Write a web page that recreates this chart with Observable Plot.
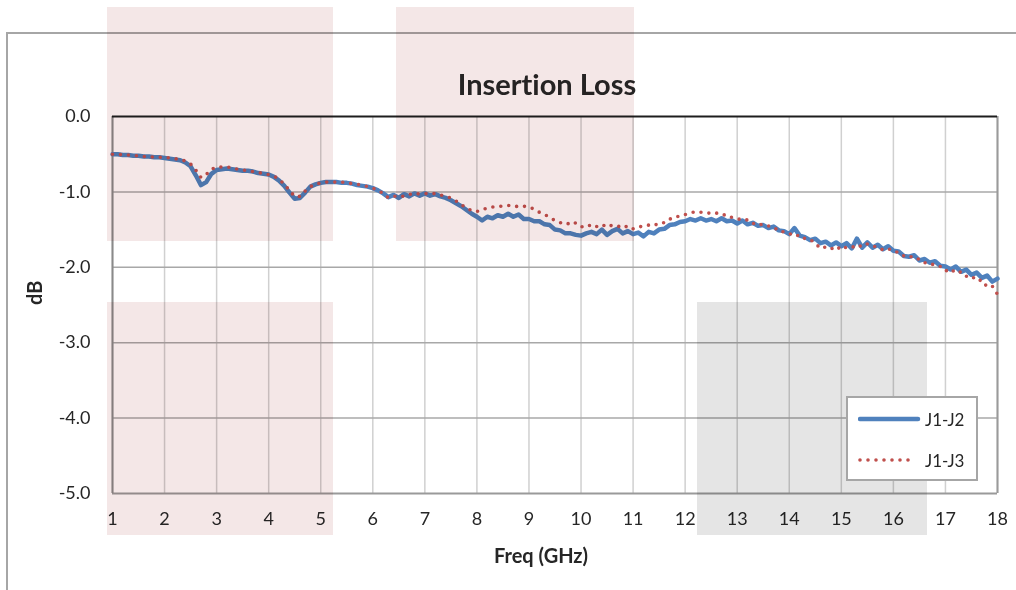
<!DOCTYPE html>
<html>
<head>
<meta charset="utf-8">
<script src="https://cdn.jsdelivr.net/npm/d3@7"></script>
<script src="https://cdn.jsdelivr.net/npm/@observablehq/plot@0.6"></script>
<style>
  html, body { margin: 0; padding: 0; background: #fff; }
  #wrap { position: relative; width: 1016px; height: 590px; overflow: hidden; background: #fff; font-family: Lato, "Open Sans", sans-serif; font-variant-ligatures: none; font-feature-settings: "liga" 0, "clig" 0, "dlig" 0; }
  #chart svg, #chart svg text { font-variant-ligatures: none; font-feature-settings: "liga" 0, "clig" 0, "dlig" 0; }
  #frame { position: absolute; left: 6px; top: 32px; width: 1100px; height: 700px; border: 2px solid #a6a6a6; box-sizing: border-box; pointer-events: none; }
  .shade { position: absolute; mix-blend-mode: multiply; pointer-events: none; }
  #legend { position: absolute; left: 846px; top: 396px; width: 132px; height: 85px; border: 2px solid #a6a6a6; box-sizing: border-box; background: #fff; font-size: 17px; color: #262626; }
  #legend .row { position: absolute; left: 0; height: 20px; display: flex; align-items: center; }
  #legend svg { display: block; }
</style>
</head>
<body>
<div id="wrap">
  <div id="frame"></div>
  <div id="chart"></div>
  <div class="shade" style="left:107px;top:7px;width:226px;height:234px;background:rgb(244,231,231)"></div>
  <div class="shade" style="left:396px;top:7px;width:238px;height:234px;background:rgb(244,231,231)"></div>
  <div class="shade" style="left:107px;top:302px;width:226px;height:233px;background:rgb(244,231,231)"></div>
  <div class="shade" style="left:697px;top:302px;width:230px;height:233px;background:rgb(229,229,229)"></div>
  <div id="legend"></div>
</div>
<script>
const freq = [
1.0,1.1,1.2,1.3,1.4,1.5,1.6,1.7,1.8,1.9,
2.0,2.1,2.2,2.3,2.4,2.5,2.6,2.7,2.8,2.9,
3.0,3.1,3.2,3.3,3.4,3.5,3.6,3.7,3.8,3.9,
4.0,4.1,4.2,4.3,4.4,4.5,4.6,4.7,4.8,4.9,
5.0,5.1,5.2,5.3,5.4,5.5,5.6,5.7,5.8,5.9,
6.0,6.1,6.2,6.3,6.4,6.5,6.6,6.7,6.8,6.9,
7.0,7.1,7.2,7.3,7.4,7.5,7.6,7.7,7.8,7.9,
8.0,8.1,8.2,8.3,8.4,8.5,8.6,8.7,8.8,8.9,
9.0,9.1,9.2,9.3,9.4,9.5,9.6,9.7,9.8,9.9,
10.0,10.1,10.2,10.3,10.4,10.5,10.6,10.7,10.8,10.9,
11.0,11.1,11.2,11.3,11.4,11.5,11.6,11.7,11.8,11.9,
12.0,12.1,12.2,12.3,12.4,12.5,12.6,12.7,12.8,12.9,
13.0,13.1,13.2,13.3,13.4,13.5,13.6,13.7,13.8,13.9,
14.0,14.1,14.2,14.3,14.4,14.5,14.6,14.7,14.8,14.9,
15.0,15.1,15.2,15.3,15.4,15.5,15.6,15.7,15.8,15.9,
16.0,16.1,16.2,16.3,16.4,16.5,16.6,16.7,16.8,16.9,
17.0,17.1,17.2,17.3,17.4,17.5,17.6,17.7,17.8,17.9,
18.0];

const j1j2 = [
-0.50,-0.50,-0.51,-0.51,-0.52,-0.52,-0.53,-0.53,-0.54,-0.54,
-0.55,-0.56,-0.57,-0.58,-0.61,-0.66,-0.78,-0.91,-0.87,-0.76,
-0.71,-0.70,-0.69,-0.70,-0.71,-0.72,-0.72,-0.73,-0.75,-0.76,
-0.77,-0.80,-0.85,-0.92,-1.01,-1.09,-1.08,-1.01,-0.93,-0.90,
-0.88,-0.87,-0.87,-0.87,-0.88,-0.88,-0.89,-0.91,-0.92,-0.93,
-0.95,-0.98,-1.02,-1.07,-1.04,-1.08,-1.03,-1.06,-1.02,-1.05,
-1.02,-1.05,-1.03,-1.06,-1.08,-1.11,-1.15,-1.19,-1.24,-1.29,
-1.33,-1.38,-1.33,-1.35,-1.31,-1.33,-1.29,-1.33,-1.30,-1.36,
-1.36,-1.39,-1.39,-1.43,-1.44,-1.50,-1.51,-1.55,-1.55,-1.57,
-1.58,-1.55,-1.53,-1.56,-1.50,-1.57,-1.52,-1.49,-1.55,-1.52,
-1.56,-1.54,-1.59,-1.53,-1.55,-1.50,-1.49,-1.44,-1.43,-1.40,
-1.39,-1.36,-1.38,-1.35,-1.38,-1.36,-1.39,-1.35,-1.39,-1.38,
-1.42,-1.38,-1.43,-1.41,-1.45,-1.44,-1.48,-1.46,-1.51,-1.52,
-1.56,-1.48,-1.58,-1.60,-1.64,-1.62,-1.68,-1.66,-1.71,-1.67,
-1.72,-1.68,-1.75,-1.62,-1.74,-1.67,-1.74,-1.70,-1.76,-1.72,
-1.78,-1.79,-1.85,-1.86,-1.84,-1.91,-1.89,-1.94,-1.92,-1.98,
-1.99,-2.03,-1.99,-2.06,-2.03,-2.10,-2.07,-2.14,-2.11,-2.19,
-2.15];

const j1j3 = [
-0.50,-0.50,-0.51,-0.51,-0.52,-0.52,-0.53,-0.53,-0.54,-0.54,
-0.54,-0.55,-0.56,-0.57,-0.59,-0.63,-0.71,-0.81,-0.77,-0.70,
-0.67,-0.67,-0.67,-0.68,-0.70,-0.71,-0.72,-0.73,-0.74,-0.76,
-0.77,-0.79,-0.83,-0.90,-0.98,-1.06,-1.06,-0.99,-0.93,-0.90,
-0.88,-0.87,-0.87,-0.87,-0.87,-0.88,-0.89,-0.90,-0.91,-0.93,
-0.95,-0.98,-1.02,-1.08,-1.06,-1.05,-1.06,-1.03,-1.04,-1.02,
-1.02,-1.03,-1.02,-1.04,-1.06,-1.08,-1.12,-1.17,-1.21,-1.25,
-1.26,-1.24,-1.21,-1.20,-1.19,-1.19,-1.18,-1.18,-1.20,-1.19,
-1.20,-1.23,-1.27,-1.30,-1.34,-1.38,-1.41,-1.40,-1.44,-1.41,
-1.46,-1.47,-1.43,-1.46,-1.43,-1.47,-1.44,-1.45,-1.48,-1.45,
-1.49,-1.46,-1.46,-1.44,-1.45,-1.41,-1.41,-1.36,-1.35,-1.31,
-1.30,-1.28,-1.26,-1.27,-1.27,-1.29,-1.28,-1.31,-1.30,-1.34,
-1.35,-1.38,-1.37,-1.42,-1.41,-1.45,-1.45,-1.49,-1.49,-1.54,
-1.55,-1.59,-1.57,-1.62,-1.63,-1.68,-1.75,-1.73,-1.76,-1.72,
-1.77,-1.73,-1.74,-1.70,-1.73,-1.69,-1.72,-1.73,-1.77,-1.75,
-1.79,-1.80,-1.85,-1.84,-1.89,-1.89,-1.94,-1.94,-1.98,-1.99,
-2.05,-2.02,-2.08,-2.06,-2.12,-2.11,-2.18,-2.17,-2.26,-2.25,
-2.36];

const xTicks = [1,2,3,4,5,6,7,8,9,10,11,12,13,14,15,16,17,18];
const yTicks = [0,-1,-2,-3,-4,-5];
const yGrid = [-1,-2,-3,-4];
const seriesNames = ["J1-J2","J1-J3"];
const seriesColors = ["#4f81bd","#c0504d"];
const titleText = "Insertion Loss";
const xLabel = "Freq (GHz)";
const yLabel = "dB";

const table = freq.map((f, i) => ({freq: f, j12: j1j2[i], j13: j1j3[i]}));

const chart = Plot.plot({
  width: 1016,
  height: 590,
  marginLeft: 112,
  marginRight: 19,
  marginTop: 116,
  marginBottom: 97,
  style: {fontFamily: "Lato, 'Open Sans', sans-serif", fontSize: "18px", color: "#262626", background: "transparent", overflow: "visible"},
  x: {domain: [1, 18]},
  y: {domain: [-5, 0]},
  marks: [
    Plot.gridX(xTicks, {stroke: "#d0d0d0", strokeOpacity: 1, strokeWidth: 1.5}),
    Plot.gridY(yGrid, {stroke: "#a8a8a8", strokeOpacity: 1, strokeWidth: 1.5}),
    Plot.ruleY([-5], {stroke: "#9a9a9a", strokeWidth: 2}),
    Plot.ruleX([18], {stroke: "#9a9a9a", strokeWidth: 2}),
    Plot.ruleX([1], {stroke: "#8a8a8a", strokeWidth: 2}),
    Plot.ruleY([0], {stroke: "#1e1e1e", strokeWidth: 2}),
    Plot.axisX({ticks: xTicks, tickSize: 0, tickPadding: 19, tickFormat: d => String(d), label: null, fontSize: 18}),
    Plot.axisY({ticks: yTicks, tickSize: 0, tickPadding: 22, tickFormat: d => d.toFixed(1), label: null, fontSize: 18}),
    Plot.line(table, {x: "freq", y: "j12", stroke: seriesColors[0], strokeWidth: 4.5, strokeLinejoin: "round"}),
    Plot.line(table, {x: "freq", y: "j13", stroke: seriesColors[1], strokeWidth: 3.6, strokeDasharray: "0 8", strokeLinecap: "round"}),
    Plot.text([titleText], {frameAnchor: "top", dy: -42, dx: -8, fontSize: 29, fontWeight: "bold", fill: "#262626"}),
    Plot.text([xLabel], {frameAnchor: "bottom", dy: 69, dx: -14, fontSize: 20, fontWeight: "bold", fill: "#262626"}),
    Plot.text([yLabel], {frameAnchor: "left", dx: -77, rotate: -90, fontSize: 20, fontWeight: "bold", fill: "#262626"})
  ]
});
document.getElementById("chart").appendChild(chart);

// Legend
const legend = d3.select("#legend");
const rows = [{top: 11, dash: null}, {top: 52, dash: "0 8"}];
seriesNames.forEach((name, i) => {
  const row = legend.append("div").attr("class", "row").style("top", rows[i].top + "px").style("left", "10px");
  const sw = row.append("svg").attr("width", 64).attr("height", 20);
  const ln = sw.append("line").attr("x1", 2).attr("x2", i === 0 ? 60 : 56).attr("y1", 10).attr("y2", 10)
    .attr("stroke", seriesColors[i]).attr("stroke-width", i === 0 ? 4.5 : 3.6).attr("stroke-linecap", "round");
  if (rows[i].dash) ln.attr("stroke-dasharray", rows[i].dash);
  row.append("span").text(name).style("margin-left", "3px");
});
</script>
</body>
</html>
